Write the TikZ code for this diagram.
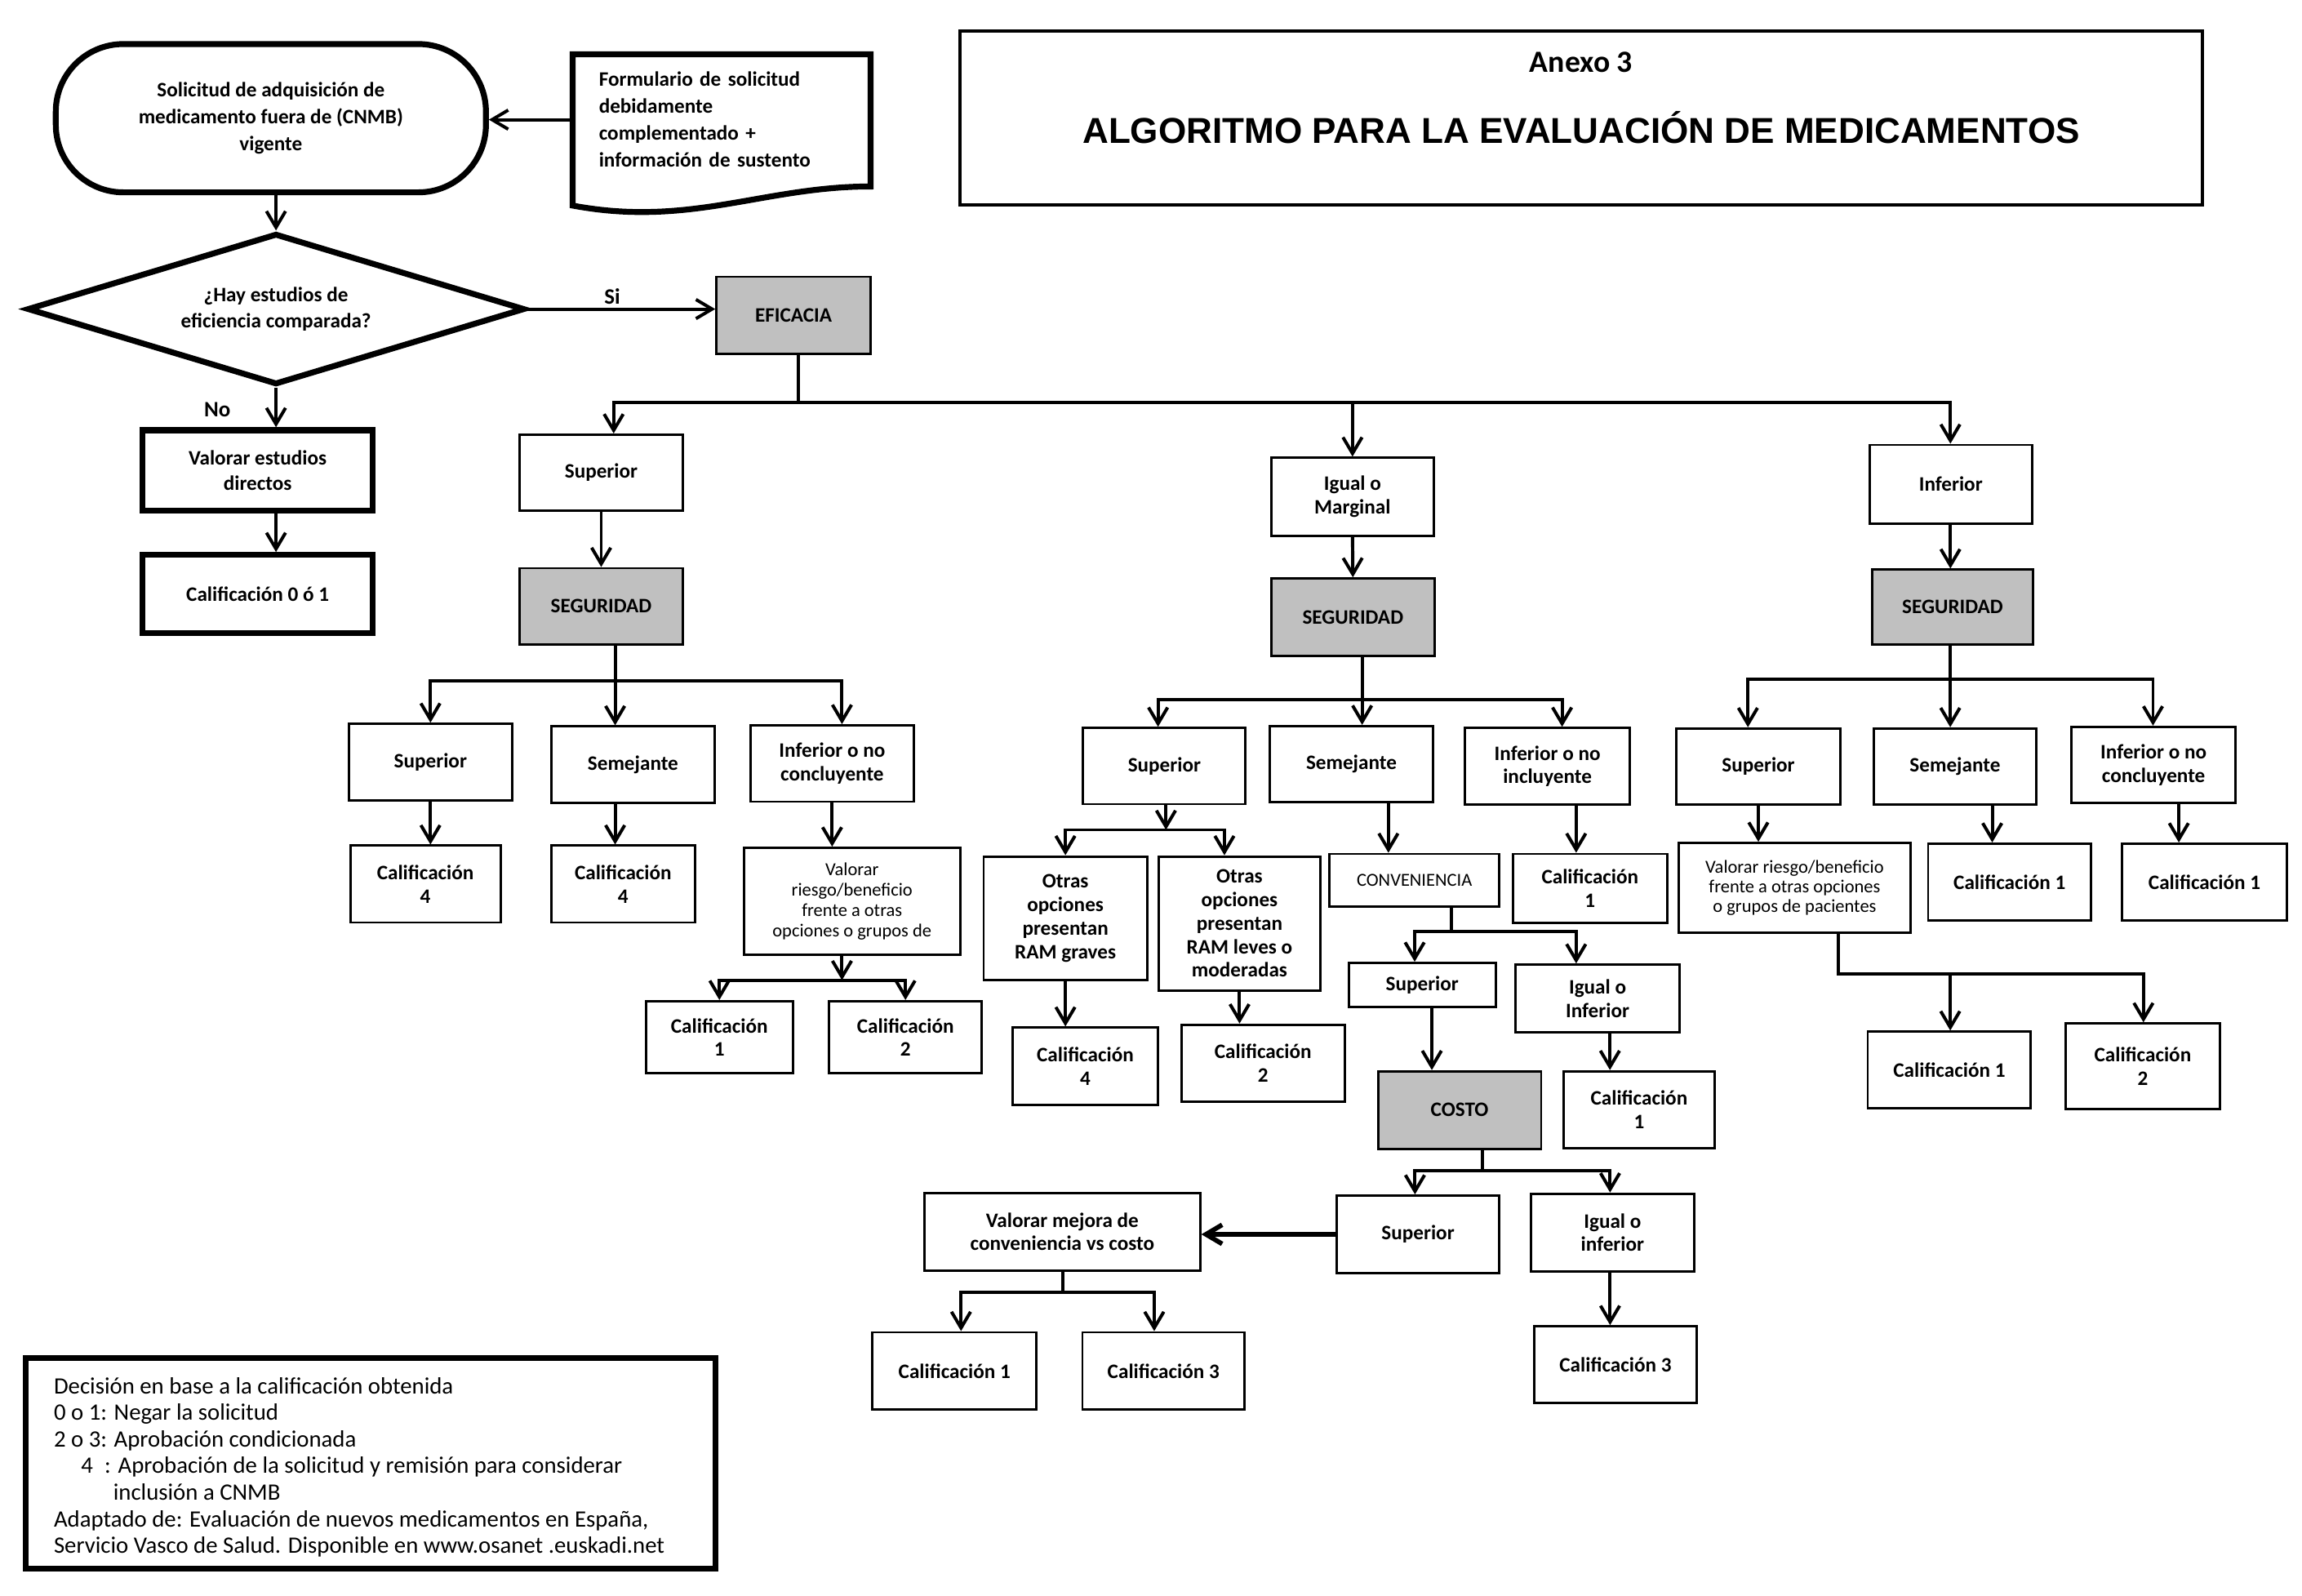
\documentclass[tikz,border=0pt]{standalone}
\usepackage{fontspec}
\setmainfont{Carlito}
\newfontfamily\arialfont{Liberation Sans}
\usetikzlibrary{arrows.meta,shapes.geometric}
\definecolor{boxgray}{RGB}{192,192,192}
\newcommand\mkbox[7][]{%
  \pgfmathsetmacro\bxcx{(#3+#5)/2}%
  \pgfmathsetmacro\bxcy{(#4+#6)/2}%
  \pgfmathsetmacro\bxw{#5-#3}%
  \pgfmathsetmacro\bxh{#6-#4}%
  \node[bx,#1,minimum width=\bxw pt,minimum height=\bxh pt] (#2) at (\bxcx,\bxcy) {#7};}
\begin{document}
\begin{tikzpicture}[x=1pt,y=-1pt,
  bx/.style={draw, line width=1.6pt, inner sep=1pt, align=center, font=\bfseries\fontsize{14}{16}\selectfont},
  thickb/.style={line width=4pt},
  grayb/.style={fill=boxgray},
  ln/.style={line width=2.2pt, line cap=rect},
  arr/.style={line width=2.2pt, -{Straight Barb[length=11pt,width=13pt]}},
  lbl/.style={font=\bfseries\fontsize{15}{18}\selectfont, inner sep=0pt}]
\fill[white] (0,0) rectangle (1568,1087);
\useasboundingbox (0,0) rectangle (1568,1087);

% ---- start and document
\mkbox[thickb, rounded corners=46pt, font=\bfseries\fontsize{14}{18.5}\selectfont]{start}{38}{30}{331}{131}{Solicitud de adquisición de\\medicamento fuera de (CNMB)\\vigente}
\node[font=\bfseries\fontsize{14}{18.3}\selectfont, align=left, text width=167pt, inner xsep=18pt, inner ysep=0pt, minimum height=89pt] (doc) at (491.5,81.5) {Formulario de solicitud\\debidamente\\complementado +\\información de sustento};
\draw[line width=4pt, line join=miter] (390,37) -- (593,37) -- (593,127) .. controls (520,127) and (470,155) .. (390,140) -- cycle;
\draw[arr] (doc.west) -- (doc.west -| start.east);

% ---- title
\node[draw, line width=2pt, minimum width=846pt, minimum height=118.5pt, inner sep=0pt] (title) at (1077,80.25) {};
\node[anchor=base, font=\bfseries\fontsize{21}{24}\selectfont] (anexo) at (1077,49.3) {Anexo 3};
\node[anchor=base, font=\arialfont\bfseries\fontsize{24.5}{28}\selectfont] (alg) at (1077,97.8) {ALGORITMO PARA LA EVALUACIÓN DE MEDICAMENTOS};

% ---- decision
\node[diamond, aspect=3.29, draw, line width=4pt, minimum width=339pt, minimum height=103pt, inner sep=0pt, align=center, font=\bfseries\fontsize{14}{18}\selectfont] (dia) at (188,210.5) {¿Hay estudios de\\eficiencia comparada?};
\draw[arr] (start.south -| dia.north) -- (dia.north);

\mkbox[grayb]{efi}{488}{188.5}{593}{241}{EFICACIA}
\draw[arr] (dia.east) -- (dia.east -| efi.west);
\node[lbl] (si) at (417,202) {Si};
\node[lbl] (no) at (148,279) {No};

\mkbox[thickb, font=\bfseries\fontsize{14}{17.6}\selectfont]{valdir}{97}{293}{254}{348}{Valorar estudios\\directos}
\mkbox[thickb]{cal01}{97}{378}{254}{431}{Calificación 0 ó 1}
\draw[arr] (dia.south) -- (dia.south |- valdir.north);
\draw[arr] (dia.south |- valdir.south) -- (dia.south |- cal01.north);

% ---- main split
\coordinate (j0) at (543.6,274);
\coordinate (j0a) at (418,274);
\coordinate (j0c) at (1328.5,274);
\draw[ln] (efi.south -| j0) -- (j0);
\draw[ln] (j0a) -- (j0c);
\mkbox{sup1}{354}{296}{465}{348}{Superior}
\mkbox{igm}{865.8}{311.8}{976.7}{365}{Igual o\\Marginal}
\mkbox{inf}{1273.5}{303}{1384}{356.5}{Inferior}
\draw[arr] (j0a) -- (j0a |- sup1.north);
\draw[arr] (j0 -| igm.north) -- (igm.north);
\draw[arr] (j0c) -- (j0c |- inf.north);

% ---- branch 1
\mkbox[grayb]{seg1}{354}{387}{465}{439}{SEGURIDAD}
\draw[arr] (sup1.south) -- (seg1.north);
\coordinate (j1) at (419,463.5);
\coordinate (j1a) at (293.2,463.5);
\coordinate (j1c) at (573.5,463.5);
\draw[ln] (seg1.south -| j1) -- (j1);
\draw[ln] (j1a) -- (j1c);
\mkbox{s1a}{237.7}{493}{348.7}{545}{Superior}
\mkbox{s1b}{375.4}{494.8}{486.9}{546.8}{Semejante}
\mkbox{s1c}{511.3}{494}{622.3}{546}{Inferior o no\\concluyente}
\draw[arr] (j1a) -- (s1a.north);
\draw[arr] (j1) -- (j1 |- s1b.north);
\draw[arr] (j1c) -- (j1c |- s1c.north);
\mkbox{c1a}{238.6}{576}{340.9}{628.3}{Calificación\\4}
\mkbox{c1b}{375.4}{576}{473.5}{628.3}{Calificación\\4}
\mkbox[font=\fontsize{12.5}{14}\selectfont]{v1}{506.7}{577.4}{654}{650.4}{Valorar\\riesgo/beneficio\\frente a otras\\opciones o grupos de}
\draw[arr] (s1a.south) -- (s1a.south |- c1a.north);
\draw[arr] (j1 |- s1b.south) -- (j1 |- c1b.north);
\draw[arr] (s1c.south) -- (s1c.south |- v1.north);
\coordinate (j1d) at (573.5,667.6);
\draw[arr] (v1.south -| j1d) -- (j1d);
\mkbox{c1c}{440}{681.9}{540}{731}{Calificación\\1}
\mkbox{c1d}{564.7}{681.9}{668.8}{731}{Calificación\\2}
\draw[ln] (c1c.north |- j1d) -- (c1d.north |- j1d);
\draw[arr] (c1c.north |- j1d) -- (c1c.north);
\draw[arr] (c1d.north |- j1d) -- (c1d.north);

% ---- branch 2
\mkbox[grayb]{seg2}{866}{394}{977}{447}{SEGURIDAD}
\draw[arr] (igm.south) -- (seg2.north);
\coordinate (j2) at (927.8,476.7);
\coordinate (j2a) at (788.8,476.7);
\coordinate (j2c) at (1064,476.7);
\draw[ln] (seg2.south -| j2) -- (j2);
\draw[ln] (j2a) -- (j2c);
\mkbox{s2a}{737.8}{495.8}{848.4}{547.7}{Superior}
\mkbox{s2b}{864.7}{494.5}{976.3}{546.1}{Semejante}
\mkbox{s2c}{998}{495.8}{1110}{547.9}{Inferior o no\\incluyente}
\draw[arr] (j2a) -- (j2a |- s2a.north);
\draw[arr] (j2) -- (j2 |- s2b.north);
\draw[arr] (j2c) -- (j2c |- s2c.north);
\coordinate (j2d) at (794.2,565.2);
\coordinate (j2e) at (834,565.2);
\draw[arr] (s2a.south -| j2d) -- (j2d);
\mkbox{ram1}{670}{583.3}{781.4}{667.6}{Otras\\opciones\\presentan\\RAM graves}
\mkbox{ram2}{789.1}{583.3}{899.5}{674.6}{Otras\\opciones\\presentan\\RAM leves o\\moderadas}
\draw[ln] (ram1.north |- j2d) -- (j2e);
\draw[arr] (ram1.north |- j2d) -- (ram1.north);
\draw[arr] (j2e) -- (j2e |- ram2.north);
\mkbox{c2a}{689.6}{699.9}{788.8}{752.8}{Calificación\\4}
\mkbox{c2b}{804.8}{697.9}{915.8}{750.3}{Calificación\\2}
\draw[arr] (ram1.south) -- (ram1.south |- c2a.north);
\draw[arr] (ram2.south) -- (ram2.south |- c2b.north);

\mkbox[font=\fontsize{12.5}{14}\selectfont]{conv}{905.5}{581.6}{1021.3}{617.3}{CONVENIENCIA}
\coordinate (k2b) at (945.7,0);
\draw[arr] (s2b.south -| k2b) -- (conv.north -| k2b);
\coordinate (j3) at (988.8,634.4);
\coordinate (j3a) at (963.6,634.4);
\coordinate (j3c) at (1073.6,634.4);
\draw[ln] (conv.south -| j3) -- (j3);
\draw[ln] (j3a) -- (j3c);
\mkbox{supc}{918.6}{655.8}{1018.9}{685.9}{Superior}
\mkbox{igi}{1032.3}{657}{1144}{703}{Igual o\\Inferior}
\draw[arr] (j3a) -- (j3a |- supc.north);
\draw[arr] (j3c) -- (j3c |- igi.north);
\mkbox{c2c}{1030.6}{581.6}{1135.5}{628.8}{Calificación\\1}
\draw[arr] (s2c.south -| j3c) -- (j3c |- c2c.north);

\mkbox[grayb]{costo}{938.6}{729.6}{1049.8}{782.4}{COSTO}
\coordinate (k3) at (975.3,0);
\draw[arr] (supc.south -| k3) -- (costo.north -| k3);
\mkbox{c3x}{1064.9}{729.6}{1168}{781.9}{Calificación\\1}
\coordinate (k4) at (1096.6,0);
\draw[arr] (igi.south -| k4) -- (c3x.north -| k4);
\coordinate (j4) at (1009.8,797.5);
\coordinate (j4a) at (963.8,797.5);
\coordinate (j4c) at (1096.7,797.5);
\draw[ln] (costo.south -| j4) -- (j4);
\draw[ln] (j4a) -- (j4c);
\mkbox{supk}{910.4}{814.3}{1021.3}{867.1}{Superior}
\mkbox{igk}{1042.9}{813}{1153.8}{866}{Igual o\\inferior}
\draw[arr] (j4a) -- (j4a |- supk.north);
\draw[arr] (j4c) -- (j4c |- igk.north);
\mkbox{valm}{629.7}{812.4}{817.5}{865.4}{Valorar mejora de\\conveniencia vs costo}
\draw[arr, line width=3.2pt] (supk.west) -- (supk.west -| valm.east);
\coordinate (j5) at (724,880);
\coordinate (j5a) at (654.6,880);
\coordinate (j5c) at (786.2,880);
\draw[ln] (valm.south -| j5) -- (j5);
\draw[ln] (j5a) -- (j5c);
\mkbox{c5a}{594.3}{907.4}{706}{960}{Calificación 1}
\mkbox{c5b}{737.3}{907.4}{847.7}{960}{Calificación 3}
\draw[arr] (j5a) -- (j5a |- c5a.north);
\draw[arr] (j5c) -- (j5c |- c5b.north);
\mkbox{c5c}{1044.9}{903.3}{1155.8}{955.6}{Calificación 3}
\draw[arr] (igk.south -| j4c) -- (j4c |- c5c.north);

% ---- branch 3
\mkbox[grayb]{seg3}{1275}{388}{1385}{439}{SEGURIDAD}
\draw[arr] (inf.south -| j0c) -- (seg3.north -| j0c);
\coordinate (j6) at (1328.4,462.5);
\coordinate (j6a) at (1190.6,462.5);
\coordinate (j6c) at (1466.5,462.5);
\draw[ln] (seg3.south -| j6) -- (j6);
\draw[ln] (j6a) -- (j6c);
\mkbox{s3a}{1141.9}{496.1}{1253.5}{548.2}{Superior}
\mkbox{s3b}{1276.3}{496.1}{1387}{548.2}{Semejante}
\mkbox{s3c}{1411.1}{495}{1522.6}{547}{Inferior o no\\concluyente}
\draw[arr] (j6a) -- (j6a |- s3a.north);
\draw[arr] (j6) -- (j6 |- s3b.north);
\draw[arr] (j6c) -- (j6c |- s3c.north);
\mkbox[font=\fontsize{12.5}{13.5}\selectfont]{v3}{1143.5}{574.1}{1301.3}{635.2}{Valorar riesgo/beneficio\\frente a otras opciones\\o grupos de pacientes}
\mkbox{c3a}{1313.3}{574.6}{1424.3}{626.9}{Calificación 1}
\mkbox{c3b}{1445.6}{574.6}{1557.5}{626.9}{Calificación 1}
\draw[arr] (s3a.south) -- (s3a.south |- v3.north);
\coordinate (k9) at (1357,0);
\coordinate (k10) at (1484.1,0);
\draw[arr] (s3b.south -| k9) -- (c3a.north -| k9);
\draw[arr] (s3c.south -| k10) -- (c3b.north -| k10);
\coordinate (j7) at (1252,663.4);
\coordinate (j7b) at (1328.4,663.4);
\coordinate (j7c) at (1460,663.4);
\draw[ln] (v3.south -| j7) -- (j7) -- (j7c);
\mkbox{c3c}{1272.2}{702.7}{1383.3}{754.8}{Calificación 1}
\mkbox{c3d}{1406.8}{697.1}{1512.2}{755.5}{Calificación\\2}
\draw[arr] (j7b) -- (j7b |- c3c.north);
\draw[arr] (j7c) -- (j7c |- c3d.north);

% ---- legend
\node[draw, line width=4pt, minimum width=469.5pt, minimum height=143.5pt, inner sep=0pt] (leg) at (252.45,996.75) {};
\node[anchor=north west, align=left, inner sep=0pt, font=\fontsize{16}{18.1}\selectfont] (legtxt) at (36.5,938) {Decisión en base a la calificación obtenida\\
0 o 1: Negar la solicitud\\
2 o 3: Aprobación condicionada\\
\hspace*{18.5pt}4\hspace*{8pt}: Aprobación de la solicitud y remisión para considerar\\
\hspace*{40.5pt}inclusión a CNMB\\
Adaptado de: Evaluación de nuevos medicamentos en España,\\
Servicio Vasco de Salud. Disponible en www.osanet .euskadi.net};
\end{tikzpicture}
\end{document}
